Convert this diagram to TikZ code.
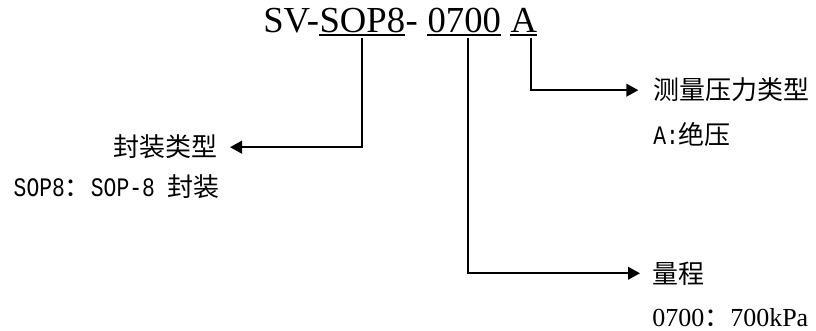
\documentclass[tikz,border=0pt]{standalone}
\usepackage{fontspec}
\setmainfont{Liberation Serif}
\newfontfamily\cjk{Noto Sans CJK SC}
\newfontfamily\lmono[FakeStretch=0.8]{Liberation Mono}
\newcommand\mn{\lmono\fontsize{20pt}{22pt}\selectfont}
\usetikzlibrary{arrows.meta, positioning}

\begin{document}
\begin{tikzpicture}[
    x=0.75pt, y=-0.75pt,
    >={Triangle[length=9pt, width=9.5pt]},
    part/.style={inner sep=0pt, anchor=base west, font=\fontsize{27.5pt}{30pt}\selectfont},
    tag/.style={inner sep=0pt, font=\cjk\fontsize{19.5pt}{22pt}\selectfont},
    note/.style={inner sep=0pt, font=\fontsize{19.5pt}{22pt}\selectfont},
    uline/.style={line width=1.5pt},
    lead/.style={->, line width=1.4pt}
  ]
    \useasboundingbox (0,0) rectangle (816,331);

    \node[part] (sv) at (263,33) {SV-};
    \node[part] (sop) at (sv.base east) {SOP8};
    \node[part] (dash) at (sop.base east) {-};
    \node[part] (rng) at ([xshift=6.9pt]dash.base east) {0700};
    \node[part] (typ) at ([xshift=6.9pt]rng.base east) {A};
    \foreach \n in {sop, rng, typ}
      \draw[uline] ([yshift=-1.6pt]\n.base west) -- ([yshift=-1.6pt]\n.base east);

    \node[tag, anchor=base east] (pkg) at (218,157) {封装类型};
    \node[note, anchor=base east] (pkgnote) at (220,196) {{\mn SOP8}{\cjk ：}{\mn SOP-8 }{\cjk 封装}};
    \node[tag, anchor=base west] (press) at (653,100) {测量压力类型};
    \node[note, anchor=base west] (pressnote) at (653,145) {{\mn A:}{\cjk 绝压}};
    \node[tag, anchor=base west] (span) at (652,283) {量程};
    \node[note, anchor=base west] (spannote) at (652,326) {0700{\cjk ：}700kPa};

    \draw[lead] ([yshift=-4pt]sop.base) |- ([xshift=9pt]pkg.east);
    \draw[lead] ([xshift=3pt, yshift=-4pt]rng.base) |- ([xshift=-9pt]span.west);
    \draw[lead] ([xshift=5.6pt, yshift=-4pt]typ.base) |- ([xshift=-11pt]press.west);
  \end{tikzpicture}
\end{document}
